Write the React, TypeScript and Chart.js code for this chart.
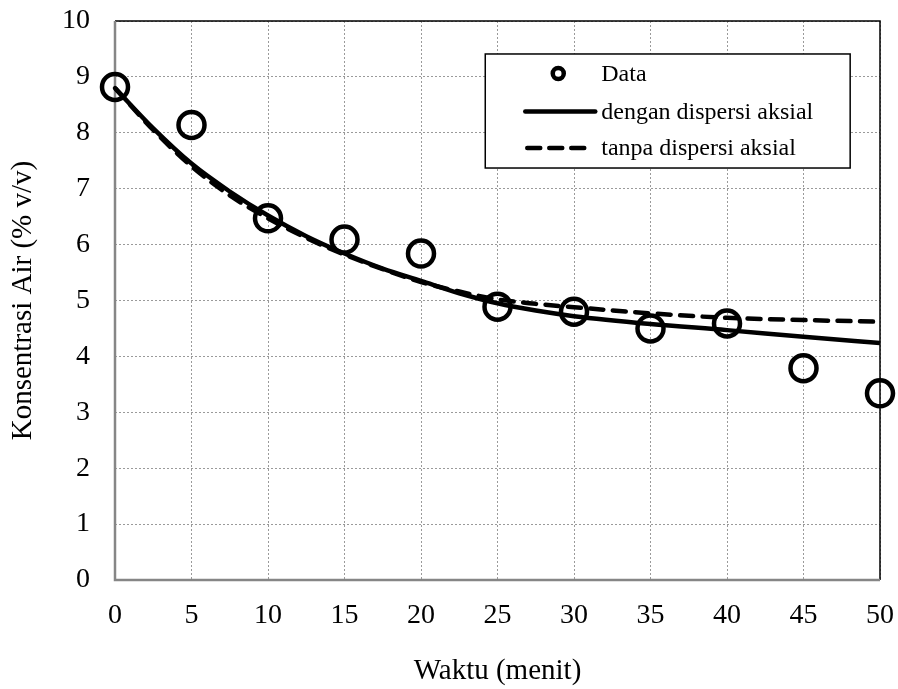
import React, { useEffect, useRef } from "react";
import { Chart, registerables } from "chart.js";

Chart.register(...registerables);

// Measured data
const dataTimes = [0, 5, 10, 15, 20, 25, 30, 35, 40, 45, 50];
const dataValues = [8.82, 8.14, 6.47, 6.09, 5.84, 4.89, 4.8, 4.5, 4.59, 3.79, 3.34];

// Model curves
const curveTimes = [0, 2.5, 5, 7.5, 10, 12.5, 15, 17.5, 20, 22.5, 25, 27.5, 30, 35, 40, 45, 50];
const withDispersion = [8.8, 8.08, 7.45, 6.95, 6.52, 6.15, 5.84, 5.57, 5.35, 5.13, 4.95, 4.82, 4.72, 4.58, 4.47, 4.35, 4.24];
const withoutDispersion = [8.8, 8.05, 7.4, 6.88, 6.47, 6.12, 5.82, 5.56, 5.33, 5.16, 5.02, 4.94, 4.88, 4.77, 4.69, 4.65, 4.62];

const xTicks = [0, 5, 10, 15, 20, 25, 30, 35, 40, 45, 50];
const yTicks = [0, 1, 2, 3, 4, 5, 6, 7, 8, 9, 10];

const legendLabels = ["Data", "dengan dispersi aksial", "tanpa dispersi aksial"];
const xTitle = "Waktu (menit)";
const yTitle = "Konsentrasi Air (% v/v)";

const FONT = "'Liberation Serif', 'Times New Roman', serif";

const framePlugin = {
  id: "frame",
  beforeDatasetsDraw(chart: any) {
    const { ctx, chartArea: a } = chart;
    ctx.save();
    ctx.setLineDash([]);
    ctx.strokeStyle = "#000";
    ctx.lineWidth = 1.5;
    ctx.beginPath();
    ctx.moveTo(a.left, a.top);
    ctx.lineTo(a.right, a.top);
    ctx.lineTo(a.right, a.bottom);
    ctx.stroke();
    ctx.strokeStyle = "#868686";
    ctx.lineWidth = 2.5;
    ctx.beginPath();
    ctx.moveTo(a.left, a.top);
    ctx.lineTo(a.left, a.bottom);
    ctx.lineTo(a.right, a.bottom);
    ctx.stroke();
    ctx.restore();
  },
};

const legendPlugin = {
  id: "customLegend",
  afterDraw(chart: any) {
    const { ctx, chartArea: a } = chart;
    const w = a.right - a.left;
    const h = a.bottom - a.top;
    const bx = a.left + w * 0.484;
    const by = a.top + h * 0.059;
    const bw = w * 0.477;
    const bh = h * 0.204;
    ctx.save();
    ctx.fillStyle = "#fff";
    ctx.fillRect(bx, by, bw, bh);
    ctx.strokeStyle = "#000";
    ctx.lineWidth = 1.5;
    ctx.setLineDash([]);
    ctx.strokeRect(bx, by, bw, bh);

    const rows = [by + 19.5, by + 57.5, by + 94];
    const symL = bx + 40;
    const symR = bx + 110;
    const textX = bx + 116;

    // Data marker
    ctx.beginPath();
    ctx.lineWidth = 4.5;
    ctx.arc(bx + 73, rows[0], 5.5, 0, Math.PI * 2);
    ctx.stroke();

    // Solid line
    ctx.lineCap = "round";
    ctx.lineWidth = 4.5;
    ctx.beginPath();
    ctx.moveTo(symL, rows[1]);
    ctx.lineTo(symR, rows[1]);
    ctx.stroke();

    // Dashed line
    ctx.setLineDash([13, 9]);
    ctx.beginPath();
    ctx.moveTo(symL + 2, rows[2]);
    ctx.lineTo(symR - 10, rows[2]);
    ctx.stroke();
    ctx.setLineDash([]);

    ctx.fillStyle = "#000";
    ctx.font = `24px ${FONT}`;
    ctx.textBaseline = "middle";
    ctx.textAlign = "left";
    legendLabels.forEach((t, i) => ctx.fillText(t, textX, rows[i] + 1));
    ctx.restore();
  },
};

export default function App() {
  const canvasRef = useRef<HTMLCanvasElement | null>(null);

  useEffect(() => {
    const canvas = canvasRef.current;
    if (!canvas) return;
    const chart = new Chart(canvas, {
      type: "scatter",
      data: {
        datasets: [
          {
            label: legendLabels[0],
            data: dataTimes.map((t, i) => ({ x: t, y: dataValues[i] })),
            pointRadius: 13,
            pointBorderWidth: 4.5,
            pointBorderColor: "#000",
            pointBackgroundColor: "rgba(0,0,0,0)",
            showLine: false,
            clip: false,
          } as any,
          {
            label: legendLabels[1],
            data: curveTimes.map((t, i) => ({ x: t, y: withDispersion[i] })),
            showLine: true,
            pointRadius: 0,
            borderColor: "#000",
            borderWidth: 4.5,
            cubicInterpolationMode: "monotone",
            clip: false,
          } as any,
          {
            label: legendLabels[2],
            data: curveTimes.map((t, i) => ({ x: t, y: withoutDispersion[i] })),
            showLine: true,
            pointRadius: 0,
            borderColor: "#000",
            borderWidth: 4.5,
            borderDash: [13, 9.5],
            borderCapStyle: "round",
            cubicInterpolationMode: "monotone",
            clip: false,
          } as any,
        ],
      },
      options: {
        animation: false,
        responsive: false,
        devicePixelRatio: 1,
        layout: { padding: { top: 21, right: 18, left: 0, bottom: 0 } },
        plugins: {
          legend: { display: false },
          tooltip: { enabled: false },
        },
        scales: {
          x: {
            type: "linear",
            min: 0,
            max: 50,
            afterBuildTicks: (scale: any) => {
              scale.ticks = xTicks.map((v) => ({ value: v }));
            },
            afterFit: (scale: any) => {
              scale.height = 109;
              scale.paddingLeft = 0;
              scale.paddingRight = 0;
            },
            ticks: {
              color: "#000",
              font: { family: FONT, size: 28 },
              padding: 19,
              maxRotation: 0,
              autoSkip: false,
            },
            grid: { color: "#9a9a9a", lineWidth: 1, drawTicks: false },
            border: { display: false, dash: [2, 2] },
            title: {
              display: true,
              text: xTitle,
              color: "#000",
              font: { family: FONT, size: 29 },
              padding: { top: 0, bottom: 0 },
            },
          },
          y: {
            type: "linear",
            min: 0,
            max: 10,
            afterBuildTicks: (scale: any) => {
              scale.ticks = yTicks.map((v) => ({ value: v }));
            },
            afterFit: (scale: any) => {
              scale.width = 115;
              scale.paddingTop = 0;
              scale.paddingBottom = 0;
            },
            ticks: {
              color: "#000",
              font: { family: FONT, size: 28 },
              padding: 25,
              autoSkip: false,
            },
            grid: { color: "#9a9a9a", lineWidth: 1, drawTicks: false },
            border: { display: false, dash: [2, 2] },
            title: {
              display: true,
              text: yTitle,
              color: "#000",
              font: { family: FONT, size: 29 },
              padding: { top: 6, bottom: 0 },
            },
          },
        },
      } as any,
      plugins: [framePlugin, legendPlugin],
    });
    return () => chart.destroy();
  }, []);

  return (
    <div style={{ position: "fixed", left: 0, top: 0, width: 898, height: 689, background: "#fff" }}>
      <canvas ref={canvasRef} width={898} height={689} style={{ display: "block" }} />
    </div>
  );
}
